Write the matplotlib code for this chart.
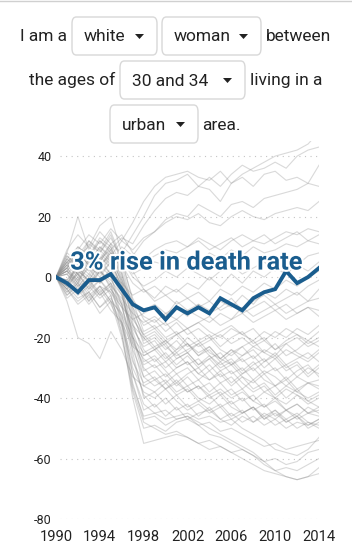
import matplotlib.pyplot as plt
import matplotlib.patheffects as pe
from matplotlib.patches import FancyBboxPatch, Polygon
import numpy as np

plt.rcParams['font.family'] = ['Roboto', 'DejaVu Sans']

years = list(range(1990, 2015))
xticks = [1990, 1994, 1998, 2002, 2006, 2010, 2014]
yticks = [40, 20, 0, -20, -40, -60, -80]

# highlighted group: white women 30-34, urban
highlight = [0, -2, -5, -1, -1, 1, -4, -9, -11, -10, -14, -10, -12, -10, -12, -7,
             -9, -11, -7, -5, -4, 2, -2, 0, 3]
highlight_label = "3% rise in death rate"

# all the other groups (grey)
others = [
    [0, 4, 8, 5, 10, 7, 12, 18, 25, 30, 33, 34, 35, 33, 32, 35, 31, 34, 36, 38, 40, 41, 42, 44, 48],
    [0, 6, 3, 9, 5, 11, 8, 14, 20, 27, 31, 32, 34, 30, 33, 30, 34, 37, 35, 36, 38, 36, 40, 42, 43],
    [0, 2, 7, 10, 6, 9, 13, 11, 17, 22, 26, 28, 27, 30, 29, 25, 31, 33, 30, 34, 35, 32, 33, 31, 37],
    [0, -3, 5, 2, 8, 4, 10, 7, 12, 15, 19, 21, 20, 24, 22, 20, 24, 25, 23, 26, 27, 28, 29, 31, 30],
    [0, 5, 9, 14, 11, 16, 12, 9, 13, 15, 18, 20, 19, 21, 18, 17, 20, 22, 20, 19, 21, 22, 23, 22, 25],
    [0, 3, -2, 6, 4, 8, 5, 3, 6, 9, 11, 12, 10, 13, 11, 9, 12, 14, 12, 11, 13, 15, 14, 16, 15],
    [0, 8, 20, 9, 15, 11, 14, 8, 5, 7, 9, 8, 10, 12, 9, 11, 13, 10, 12, 14, 11, 13, 15, 12, 14],
    [0, -2, 4, 1, 7, 3, 6, 1, 3, 5, 4, 7, 6, 4, 8, 6, 9, 7, 10, 8, 9, 11, 10, 12, 11],
    [0, 7, 4, 11, 8, 13, 6, 0, -3, -1, 2, 0, 3, 1, -1, 2, 4, 1, 3, 5, 2, 6, 4, 7, 8],
    [0, -4, 2, -1, 5, 1, -2, -6, -4, -7, -3, -5, -2, -4, 0, -3, 1, -2, 2, 0, 3, 1, 4, 2, 5],
    [0, 3, 9, 6, 12, 9, 4, -2, -5, -3, -6, -4, -7, -5, -8, -4, -6, -3, -5, -2, -4, -1, -3, 0, 2],
    [0, 5, 1, 7, 3, 9, -1, -8, -11, -9, -12, -10, -13, -9, -11, -8, -10, -6, -9, -5, -7, -4, -6, -3, -1],
    [0, -6, -2, -8, -3, -5, -10, -14, -12, -10, -13, -8, -11, -9, -12, -10, -7, -11, -8, -6, -9, -7, -5, -8, -4],
    [0, 2, 6, 3, 1, 5, -3, -9, -13, -15, -12, -14, -11, -13, -15, -12, -14, -10, -13, -11, -9, -12, -10, -8, -7],
    [0, 9, 14, 10, 17, 20, 8, 2, -4, -8, -6, -9, -7, -10, -8, -11, -9, -12, -10, -8, -11, -9, -12, -10, -11],
    [0, -1, -5, -2, -6, -3, -7, -12, -15, -13, -16, -14, -17, -15, -13, -16, -14, -12, -15, -13, -11, -14, -12, -10, -13],
    [0, 4, 10, 7, 13, 10, 2, -10, -16, -14, -18, -15, -19, -17, -20, -18, -16, -19, -17, -21, -18, -20, -17, -19, -16],
    [0, -3, 1, -4, 2, -2, -8, -16, -20, -18, -22, -19, -17, -21, -19, -23, -20, -18, -22, -20, -24, -21, -19, -22, -20],
    [0, 6, 2, 8, 5, 10, 1, -12, -22, -20, -24, -21, -25, -22, -20, -24, -26, -23, -21, -25, -22, -26, -24, -21, -23],
    [0, 1, 5, 9, 4, 7, -2, -14, -19, -23, -21, -25, -22, -26, -24, -28, -25, -23, -27, -24, -26, -22, -25, -27, -24],
    [0, -5, -1, -6, -3, -8, -12, -20, -25, -23, -27, -24, -22, -26, -23, -27, -29, -26, -24, -28, -25, -29, -27, -25, -28],
    [0, 3, -1, 5, 2, 6, -4, -16, -24, -28, -25, -29, -26, -30, -27, -25, -29, -27, -31, -28, -26, -30, -28, -32, -29],
    [0, 8, 5, 12, 9, 15, 6, -8, -18, -16, -20, -18, -22, -25, -23, -27, -24, -28, -26, -30, -27, -31, -29, -33, -30],
    [0, -2, 3, 0, 6, 1, -6, -18, -28, -26, -30, -27, -25, -29, -26, -30, -28, -32, -29, -27, -31, -29, -33, -30, -32],
    [0, 5, 8, 4, 10, 6, -1, -13, -21, -19, -23, -26, -24, -22, -26, -29, -27, -31, -28, -32, -30, -34, -31, -29, -33],
    [0, -4, -8, -5, -10, -7, -13, -22, -27, -30, -28, -25, -29, -27, -31, -28, -32, -30, -34, -31, -33, -36, -33, -35, -34],
    [0, 2, -3, 1, -2, 3, -5, -19, -31, -29, -33, -30, -28, -32, -34, -31, -35, -32, -30, -34, -36, -33, -37, -35, -36],
    [0, 7, 3, 9, 6, 11, 4, -10, -20, -24, -22, -27, -25, -29, -27, -31, -29, -33, -35, -32, -36, -34, -38, -35, -37],
    [0, -1, 4, -2, 3, -4, -10, -21, -29, -27, -31, -35, -32, -30, -34, -32, -36, -33, -37, -35, -39, -36, -38, -40, -38],
    [0, 4, 0, 6, 3, 8, 0, -15, -26, -24, -28, -32, -30, -34, -31, -35, -33, -37, -34, -38, -36, -40, -37, -41, -39],
    [0, -3, 2, -1, 4, 0, -9, -24, -33, -31, -35, -32, -36, -34, -38, -35, -39, -37, -41, -38, -40, -37, -39, -42, -40],
    [0, 6, 10, 7, 12, 8, 1, -11, -19, -17, -21, -19, -23, -21, -25, -27, -24, -26, -23, -25, -27, -24, -26, -28, -25],
    [0, -7, -4, -9, -5, -11, -15, -23, -26, -24, -21, -24, -20, -23, -21, -19, -22, -20, -23, -21, -24, -22, -20, -23, -21],
    [0, 3, 7, 12, 8, 14, 5, -7, -14, -17, -15, -19, -17, -15, -18, -20, -17, -19, -21, -18, -20, -17, -19, -21, -18],
    [0, -2, -6, -3, -7, -4, -9, -17, -23, -21, -26, -30, -28, -32, -29, -33, -31, -35, -38, -36, -40, -42, -39, -41, -43],
    [0, 5, 1, -3, 2, -1, -6, -20, -30, -34, -32, -36, -33, -37, -35, -39, -37, -41, -39, -43, -41, -44, -42, -45, -44],
    [0, -4, -9, -6, -12, -8, -15, -28, -35, -33, -37, -34, -38, -36, -40, -38, -42, -40, -44, -42, -46, -44, -47, -45, -46],
    [0, 2, -2, 4, 0, 5, -5, -22, -36, -38, -35, -39, -37, -41, -39, -43, -41, -45, -43, -47, -45, -48, -46, -49, -47],
    [0, -6, -3, -8, -4, -9, -16, -30, -38, -40, -37, -41, -44, -42, -45, -43, -47, -45, -43, -46, -44, -47, -45, -48, -49],
    [0, 3, 8, 4, 9, 5, -3, -25, -40, -38, -42, -39, -43, -41, -44, -42, -46, -44, -48, -46, -49, -47, -50, -48, -50],
    [0, -2, 1, -4, -1, -5, -12, -32, -44, -42, -46, -43, -47, -45, -44, -47, -45, -48, -46, -49, -47, -50, -48, -49, -47],
    [0, 1, -3, -1, -5, -2, -9, -27, -39, -43, -40, -44, -42, -46, -43, -47, -49, -46, -48, -45, -47, -44, -46, -43, -45],
    [0, -8, -20, -22, -27, -18, -24, -33, -36, -34, -37, -35, -38, -36, -39, -37, -40, -38, -41, -43, -40, -44, -42, -45, -43],
    [0, 4, 1, 6, 2, 7, -2, -20, -33, -36, -34, -38, -36, -40, -42, -39, -43, -45, -43, -47, -44, -48, -46, -50, -48],
    [0, -3, -7, -5, -10, -6, -18, -40, -55, -54, -53, -52, -53, -55, -54, -56, -58, -57, -59, -61, -60, -62, -61, -58, -57],
    [0, -5, -2, -7, -3, -8, -20, -38, -50, -49, -51, -48, -47, -49, -52, -53, -55, -57, -59, -62, -64, -63, -64, -62, -60],
    [0, 2, -1, 3, -2, 1, -14, -35, -47, -46, -49, -47, -46, -48, -50, -52, -54, -56, -58, -61, -64, -66, -67, -66, -65],
    [0, -1, 3, -2, 2, -3, -16, -36, -46, -45, -47, -46, -45, -47, -46, -48, -47, -50, -52, -54, -57, -58, -59, -57, -53],
    [0, -4, 0, -5, -1, -6, -19, -37, -48, -50, -52, -51, -53, -55, -57, -56, -58, -60, -62, -64, -65, -66, -67, -66, -63],
    [0, 1, -4, -1, -6, -2, -15, -32, -42, -45, -44, -47, -46, -49, -48, -51, -50, -52, -54, -56, -55, -57, -56, -55, -54],
]

# sentence with dropdowns: (text, is_dropdown, left px, row)
words = [
    ("I am a", False, 20, 0), ("white", True, 72, 0), ("woman", True, 162, 0), ("between", False, 266, 0),
    ("the ages of", False, 29, 1), ("30 and 34", True, 120, 1), ("living in a", False, 250, 1),
    ("urban", True, 110, 2), ("area.", False, 202, 2),
]
box_right = {"white": 157, "woman": 261, "30 and 34": 245, "urban": 198}

W, H = 352, 552
BLUE = '#1a5d8e'
fig = plt.figure(figsize=(W / 100, H / 100), dpi=100)


def fx(x):
    return x / W


def fy(y):
    return 1 - y / H


# thin rule at the very top
fig.add_artist(plt.Line2D([0, 1], [fy(0.5), fy(0.5)], color='#d0d0d0', lw=1))

row_mid = [36, 80, 124]
for txt, drop, left, row in words:
    base = row_mid[row] + 5.5
    if drop:
        right = box_right[txt]
        top = row_mid[row] - 19
        fig.add_artist(FancyBboxPatch((fx(left), fy(top + 38)), fx(right - left), 38 / H,
                                      boxstyle="round,pad=0,rounding_size=0.012",
                                      transform=fig.transFigure, fc='white', ec='#d8d8d8', lw=1))
        fig.text(fx(left + 12), fy(base), txt, fontsize=12.5, color='#222222', va='baseline', ha='left')
        ax0 = right - 22
        ay = row_mid[row] - 2
        fig.add_artist(Polygon([(fx(ax0), fy(ay)), (fx(ax0 + 9), fy(ay)), (fx(ax0 + 4.5), fy(ay + 5))],
                               closed=True, transform=fig.transFigure, fc='#222222', ec='none'))
    else:
        fig.text(fx(left), fy(base), txt, fontsize=12.5, color='#222222', va='baseline', ha='left')

ax = fig.add_axes([fx(56), fy(519), fx(319 - 56), (519 - 141) / H])
ax.set_xlim(1990, 2014)
ax.set_ylim(-80, 45)

ax.hlines(yticks, 1990.35, 2014, colors='#c4c4c4', linestyles=(0, (1, 4)), lw=0.8, zorder=0)

for s in others:
    ax.plot(years, s, color='#8a8a8a', alpha=0.32, lw=0.8, zorder=1)

ax.plot(years, highlight, color=BLUE, lw=2.8, zorder=3, solid_joinstyle='miter')
ax.text(1991.3, 4.8, highlight_label, color=BLUE, fontsize=18.3, fontweight='bold',
        va='center', ha='left', zorder=4,
        path_effects=[pe.withStroke(linewidth=3, foreground='white')])

for sp in ax.spines.values():
    sp.set_visible(False)
ax.set_xticks(xticks)
ax.set_yticks(yticks)
ax.set_yticklabels([str(v) for v in yticks])
ax.tick_params(axis='y', length=0, pad=3, labelsize=9, labelcolor='#222222')
ax.tick_params(axis='x', length=0, pad=8, labelsize=10.6, labelcolor='#222222')

fig.savefig('out.png', dpi=100)
